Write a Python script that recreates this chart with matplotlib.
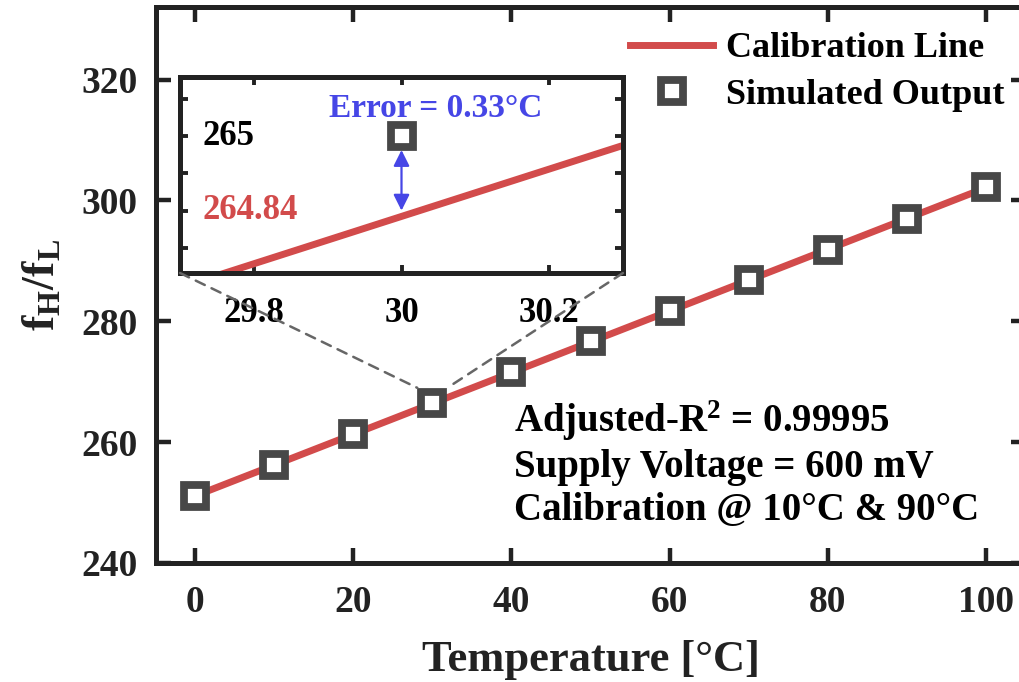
import numpy as np
import matplotlib.pyplot as plt
import matplotlib.transforms as mtransforms
from matplotlib.patches import ConnectionPatch

plt.rcParams['font.family'] = ['Liberation Serif', 'DejaVu Serif']
plt.rcParams['font.weight'] = 'bold'
plt.rcParams['mathtext.fontset'] = 'custom'
plt.rcParams['mathtext.rm'] = 'Liberation Serif:bold'
plt.rcParams['mathtext.bf'] = 'Liberation Serif:bold'
plt.rcParams['mathtext.it'] = 'Liberation Serif:bold'

# data
temp = [0, 10, 20, 30, 40, 50, 60, 70, 80, 90, 100]
f_ratio = [251.07, 256.2, 261.32, 266.5, 271.62, 276.74, 281.7, 286.78, 291.74, 296.86, 302.2]
cal_temp = [0, 100]
cal_ratio = [251.1, 302.1]

# zoomed view around 30 C
zoom_temp = [30]
zoom_out = [265.0]
zoom_line_x = [29.7, 30.3]
zoom_line_y = [264.675, 264.98]
zoom_line_at30 = 264.84

RED = '#d24b4b'
GREY = '#474747'
BLUE = '#4646e6'
DARK = '#222222'

fig = plt.figure(figsize=(10.19, 6.82), dpi=100)
ax = fig.add_axes([155.5/1019, 119/682, 870/1019, 556/682])

ax.plot(cal_temp, cal_ratio, color=RED, lw=5, label='Calibration Line', zorder=2)
ax.plot(temp, f_ratio, ls='none', marker='s', ms=16, mew=5.6, mfc='white',
        mec=GREY, label='Simulated Output', zorder=3)

ax.set_xlim(-5, 105)
ax.set_ylim(240, 332)
ax.set_xticks([0, 20, 40, 60, 80, 100])
ax.set_yticks([240, 260, 280, 300, 320])
for s in ax.spines.values():
    s.set_linewidth(3.6)
    s.set_color(DARK)
ax.tick_params(direction='in', length=11, width=3.2, color=DARK, top=True, right=True,
               labelsize=27, pad=13, labelcolor=DARK)
ax.tick_params(axis='x', pad=16)
ax.set_xlabel('Temperature [°C]', fontsize=32, fontweight='bold', color=DARK, labelpad=14)
ax.set_ylabel(r'$\mathbf{f_H/f_L}$', fontsize=33, color=DARK, labelpad=12)

ax.legend(loc='upper left', bbox_to_anchor=(630/1019, 1 - 32/682), bbox_transform=fig.transFigure,
          frameon=False, borderpad=0, borderaxespad=0, handlelength=2.3, handletextpad=0.35,
          labelspacing=0.37, numpoints=1, prop=dict(size=26, weight='bold'))

ax.text(0.412, 0.2356, r'Adjusted-R$^{\mathbf{2}}$ = 0.99995', transform=ax.transAxes,
        fontsize=28, fontweight='bold', va='baseline', ha='left')
ax.text(0.412, 0.1547, 'Supply Voltage = 600 mV', transform=ax.transAxes,
        fontsize=28, fontweight='bold', va='baseline', ha='left')
ax.text(0.412, 0.0773, 'Calibration @ 10°C & 90°C', transform=ax.transAxes,
        fontsize=28, fontweight='bold', va='baseline', ha='left')

# inset
axins = fig.add_axes([180/1019, 1 - 273/682, 443/1019, 196/682])
axins.plot(zoom_line_x, zoom_line_y, color=RED, lw=5, zorder=2)
axins.plot(zoom_temp, zoom_out, ls='none', marker='s', ms=16, mew=5.6, mfc='white',
           mec=GREY, zorder=3)
axins.annotate('', xy=(zoom_temp[0], zoom_out[0]), xytext=(zoom_temp[0], zoom_line_at30),
               arrowprops=dict(arrowstyle='<|-|>', color=BLUE, lw=1.6, mutation_scale=24,
                               shrinkA=0, shrinkB=10))
axins.text(30.046, 265.06, 'Error = 0.33°C', color=BLUE, fontsize=24, fontweight='bold',
           ha='center', va='center')
axins.text(29.731, zoom_out[0], '265', color='black', fontsize=25, fontweight='bold',
           ha='left', va='center')
axins.text(29.731, zoom_line_at30, '264.84', color=RED, fontsize=25, fontweight='bold',
           ha='left', va='center')
axins.set_xlim(29.7, 30.3)
axins.set_ylim(264.706, 265.127)
axins.set_xticks([29.8, 30, 30.2])
axins.set_xticklabels(['29.8', '30', '30.2'])
axins.set_yticks([264.76, 264.84, 264.92, 265.0, 265.08])
axins.set_yticklabels([])
for s in axins.spines.values():
    s.set_linewidth(3.6)
    s.set_color(DARK)
axins.tick_params(direction='in', length=6, width=2.8, color=DARK, top=True, right=True,
                  labelsize=25, pad=17)

# dashed connectors from inset corners to the 30 C marker corners
half = 10.8
i30 = temp.index(30)
for cx, dx in [(0, -half), (1, half)]:
    tr = mtransforms.offset_copy(ax.transData, fig=fig, x=dx, y=half, units='points')
    con = ConnectionPatch(xyA=(cx, 0), coordsA=axins.transAxes,
                          xyB=(temp[i30], f_ratio[i30]), coordsB=tr,
                          color='#666666', lw=1.8, ls=(0, (4, 3)), zorder=1)
    fig.add_artist(con)

fig.savefig('out.png', dpi=100)
